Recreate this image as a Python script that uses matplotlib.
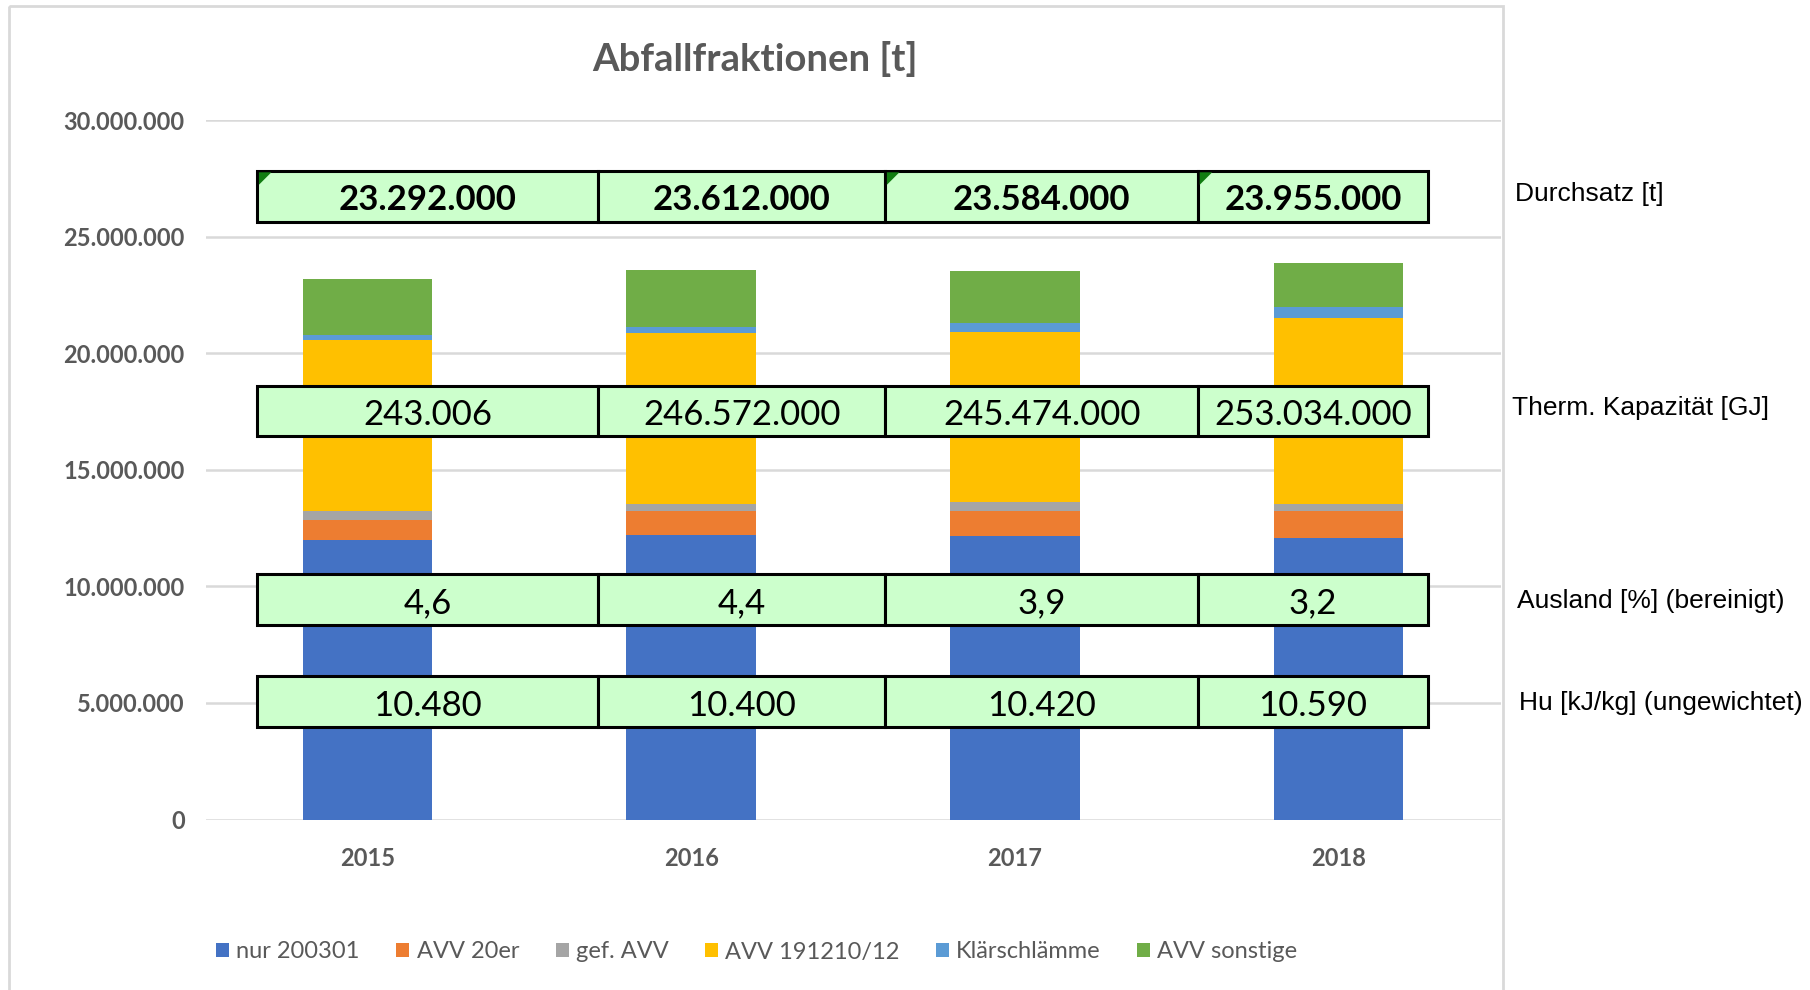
import matplotlib
matplotlib.use("Agg")
import matplotlib.pyplot as plt
from matplotlib.patches import Rectangle, Polygon
from matplotlib.ticker import FuncFormatter
import numpy as np

plt.rcParams['font.family'] = ['Lato', 'DejaVu Sans']

# Daten (t)
years = ["2015", "2016", "2017", "2018"]
nur_200301 = [11990000, 12200000, 12150000, 12090000]
avv_20er = [870000, 1030000, 1080000, 1140000]
gef_avv = [370000, 320000, 380000, 320000]
avv_191210 = [7340000, 7300000, 7300000, 7960000]
klaerschlaemme = [200000, 290000, 370000, 470000]
avv_sonstige = [2420000, 2430000, 2230000, 1900000]

series_names = ["nur 200301", "AVV 20er", "gef. AVV", "AVV 191210/12", "Klärschlämme", "AVV sonstige"]
series_colors = ["#4472C4", "#ED7D31", "#A5A5A5", "#FFC000", "#5B9BD5", "#70AD47"]

# Tabellenzeilen
durchsatz = [23292000, 23612000, 23584000, 23955000]
therm_kapazitaet = [243006, 246572000, 245474000, 253034000]
ausland = [4.6, 4.4, 3.9, 3.2]
hu = [10480, 10400, 10420, 10590]
row_labels = ["Durchsatz [t]", "Therm. Kapazität [GJ]", "Ausland [%] (bereinigt)", "Hu [kJ/kg] (ungewichtet)"]


def dots(v):
    return f"{v:,.0f}".replace(",", ".")


W, H = 1810, 990
fig = plt.figure(figsize=(W / 100, H / 100), dpi=100)

# Hauptdiagramm
ax = fig.add_axes([205.5 / W, 1 - 819.6 / H, (1500.6 - 205.5) / W, (819.6 - 120) / H])
x = np.arange(len(years))
bottom = np.zeros(len(years))
for vals, name, col in zip([nur_200301, avv_20er, gef_avv, avv_191210, klaerschlaemme, avv_sonstige],
                           series_names, series_colors):
    ax.bar(x, vals, 0.4, bottom=bottom, color=col, label=name, zorder=3)
    bottom += np.array(vals)

ax.set_xlim(-0.5, 3.5)
ax.set_ylim(0, 30000000)
ax.set_yticks(np.arange(0, 30000001, 5000000))
ax.yaxis.set_major_formatter(FuncFormatter(lambda v, p: dots(v)))
ax.set_xticks(x)
ax.set_xticklabels(years)
ax.yaxis.grid(True, color="#D9D9D9", lw=1.8, zorder=0)
for s in ax.spines.values():
    s.set_visible(False)
ax.tick_params(length=0, labelsize=17, labelcolor="#595959", pad=15)
ax.tick_params(axis="x", pad=20)
for lab in ax.get_xticklabels() + ax.get_yticklabels():
    lab.set_fontweight("bold")

# Overlay in Pixelkoordinaten fuer Rahmen, Tabelle und Beschriftungen
ov = fig.add_axes([0, 0, 1, 1])
ov.set_xlim(0, W)
ov.set_ylim(H, 0)
ov.axis("off")

ov.add_patch(Rectangle((9, 6), 1503 - 9, H, fill=False, ec="#D9D9D9", lw=2))

ov.text(755, 59, "Abfallfraktionen [t]", ha="center", va="center", fontsize=27.5,
        fontweight="bold", color="#595959")

col_edges = [257.4, 597.9, 885.4, 1198.2, 1427.9]
row_tops = [170.8, 385.5, 573.7, 676.4]
row_h = 50.8
row_texts = [
    [dots(v) for v in durchsatz],
    [dots(v) for v in therm_kapazitaet],
    [f"{v:.1f}".replace(".", ",") for v in ausland],
    [dots(v) for v in hu],
]
label_x = [1515, 1512, 1517, 1519]
label_y = [194, 408, 601, 703]

for r, (top, texts) in enumerate(zip(row_tops, row_texts)):
    for c in range(len(years)):
        x0, x1 = col_edges[c], col_edges[c + 1]
        ov.add_patch(Rectangle((x0, top), x1 - x0, row_h, fc="#CCFFCC", ec="black", lw=2.2))
        ov.text((x0 + x1) / 2, top + row_h / 2 + 4, texts[c], ha="center", va="center",
                fontsize=25, fontweight="bold" if r == 0 else "normal", color="black")
        if r == 0 and c in (0, 2, 3):
            ov.add_patch(Polygon([(x0 + 1.5, top + 1.5), (x0 + 14, top + 1.5), (x0 + 1.5, top + 14)],
                                 closed=True, fc="#107C10", ec="none"))
    ov.text(label_x[r], label_y[r], row_labels[r], ha="left", va="center",
            fontsize=19, family=["Liberation Sans", "DejaVu Sans"], color="black")

handles, labels = ax.get_legend_handles_labels()
leg = fig.legend(handles, labels, loc="center", bbox_to_anchor=(757 / W, 1 - 952 / H), ncol=6,
                 frameon=False, fontsize=17, handlelength=0.55, handleheight=0.55,
                 handletextpad=0.3, columnspacing=1.55)
for t in leg.get_texts():
    t.set_color("#595959")

fig.savefig("out.png", dpi=100)
